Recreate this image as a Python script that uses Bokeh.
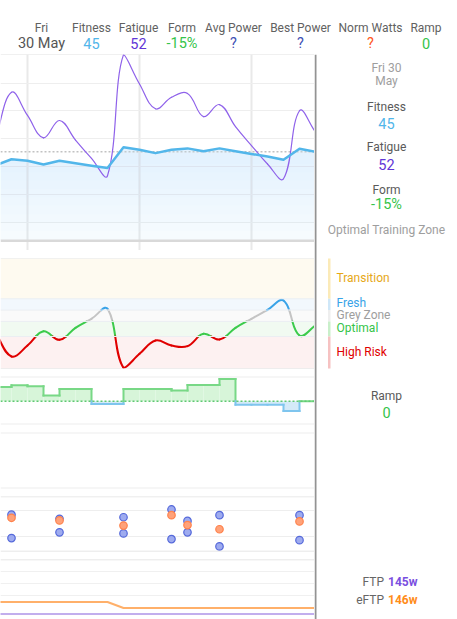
import numpy as np
import pandas as pd
from bokeh.plotting import figure
from bokeh.layouts import column, row
from bokeh.models import Range1d, FixedTicker, Span, BoxAnnotation
from bokeh.embed import file_html
from bokeh.resources import INLINE
from bokeh.core.properties import value

# ---------------- data ----------------
dates = ["2025-05-10", "2025-05-11", "2025-05-12", "2025-05-13", "2025-05-14",
         "2025-05-15", "2025-05-16", "2025-05-17", "2025-05-18", "2025-05-19",
         "2025-05-20", "2025-05-21", "2025-05-22", "2025-05-23", "2025-05-24",
         "2025-05-25", "2025-05-26", "2025-05-27", "2025-05-28", "2025-05-29",
         "2025-05-30"]
fitness = [40.5, 42.7, 42.2, 40.8, 42.2, 41.3, 40.4, 39.6, 47.0, 46.1, 44.9,
           46.1, 46.6, 45.6, 46.6, 45.6, 44.6, 43.7, 42.5, 46.5, 45.4]
fatigue = [50.0, 66.7, 58.4, 50.4, 56.6, 49.6, 43.0, 36.8, 80.2, 69.7, 60.8,
           64.9, 66.3, 58.0, 62.3, 54.4, 47.6, 41.0, 35.7, 60.1, 52.4]
form_pct = [-25.0, -56.5, -42.0, -23.0, -34.4, -18.5, -6.5, 6.7, -71.5, -53.0, -35.3,
            -42.0, -42.8, -26.4, -34.0, -18.5, -6.5, 5.4, 17.7, -28.7, -15.4]
ramp = [4.7, 5.3, 5.0, 1.9, 4.1, 4.1, -0.9, -0.9, 4.1, 4.1, 4.1,
        3.6, 5.4, 5.4, 7.4, -1.2, -1.2, -1.2, -3.3, 0.0, 0.0]
ftp = [145, 145, 145, 145, 145, 145, 145, 145, 145, 145, 145,
       145, 145, 145, 145, 145, 145, 145, 145, 145, 145]
eftp = [147, 147, 147, 147, 147, 147, 147, 147, 146, 146, 146,
        146, 146, 146, 146, 146, 146, 146, 146, 146, 146]

activity_dates = ["2025-05-11", "2025-05-14", "2025-05-18", "2025-05-21",
                  "2025-05-22", "2025-05-24", "2025-05-29"]
best_power = [142, 134, 137, 152, 130, 141, 141]
norm_watts = [136, 131, 121, 141, 122, 114, 129]
avg_power = [97, 108, 106, 95, 108, 81, 93]

week_starts = ["2025-05-12", "2025-05-19", "2025-05-26"]
fitness_ticks = [20, 30, 40, 50, 60, 70]
power_ticks = [100, 150]
ftp_ticks = [148, 150, 152]

zone_names = ["Transition", "Fresh", "Grey Zone", "Optimal", "High Risk"]
zone_edges = [20, 5, -10, -30]          # form % boundaries between the zones

header_labels = ["Fitness", "Fatigue", "Form", "Avg Power", "Best Power", "Norm Watts", "Ramp"]

# ---------------- styling / layout ----------------
FONT = "Roboto"
W = 457
HEAD_H = 54
LEFT_W, RIGHT_W = 314, 143
BODY_TOP, BODY_BOT = 54, 619
PANEL_L, PANEL_R = 314, 457
VIEW_START, VIEW_END = "2025-05-10 07:30", "2025-05-29 22:30"
PX_PER_DAY = 16

FIT_COLOR, FIT_FILL = "#52b6ea", "#bfe3f7"
FAT_COLOR = "#8f62ea"
FORM_TXT = "#35c44a"
zone_bg = ["#fefaf0", "#f2f8fd", "#fafafa", "#f1faf1", "#fdf1f1"]
zone_line = ["#f0b020", "#38a3e8", "#c4c4c4", "#3ccb4c", "#e00000"]
zone_bar = ["#fbeab8", "#cfe7f8", "#eeeeee", "#c9efca", "#f6c2c2"]
zone_text = ["#e6a817", "#38a3e8", "#9e9e9e", "#35c44a", "#e00000"]
RAMP_UP, RAMP_UP_FILL = "#78d886", "#d7f5d9"
RAMP_DN, RAMP_DN_FILL = "#7fc5ee", "#d4eaf8"

FIT_MIN, FIT_MAX, FIT_FLOOR = 10, 80.25, 13.5
FORM_MIN, FORM_MAX = -72.4, 73.4
RAMP_MIN, RAMP_MAX = -7.77, 8.23
PWR_MIN, PWR_MAX = 71.2, 176.9
FTP_MIN, FTP_MAX = 144.08, 154.08
F1_FRAME_H, F2_TOP, F2_BOT = 196, 258, 368   # page px


def ms(d):
    return pd.Timestamp(d).value / 1e6


DAY_MS = 86400000.0
x = np.array([ms(d) for d in dates])
xa = np.array([ms(d) for d in activity_dates])
xr = Range1d(ms(VIEW_START), ms(VIEW_END))


def strip(height, ylo, yhi, pad_top, pad_bottom):
    p = figure(width=LEFT_W, height=height, x_range=xr, y_range=Range1d(ylo, yhi),
               x_axis_type="datetime", x_axis_location=None, y_axis_location=None,
               toolbar_location=None, output_backend="svg",
               min_border=0, min_border_left=0, min_border_right=0,
               min_border_top=pad_top, min_border_bottom=pad_bottom,
               outline_line_color=None, background_fill_color="white",
               border_fill_color="white")
    p.xgrid.visible = False
    p.ygrid.visible = False
    return p


def edges(p, top_color, bot_color, top_w=1, bot_w=1):
    p.add_layout(Span(location=p.y_range.end, dimension="width",
                      line_color=top_color, line_width=top_w))
    p.add_layout(Span(location=p.y_range.start, dimension="width",
                      line_color=bot_color, line_width=bot_w))


def put_text(p, xs, ys, texts, colors, size, align="center", baseline="alphabetic",
             style="normal", **kw):
    p.text(x=xs, y=ys, text=texts, text_color=colors, text_font=value(FONT),
           text_font_size=size, text_align=align, text_baseline=baseline,
           text_font_style=style, **kw)


def zone_index(v):
    for k, e in enumerate(zone_edges):
        if v > e:
            return k
    return len(zone_edges)


def spline_segments(xs, ys, px_per_unit, ylo, yhi, tension=0.4):
    """Cubic Bezier control points for a smooth line through the data points
    (same construction as a tension spline), computed in screen-proportional space."""
    sx = PX_PER_DAY / DAY_MS
    X = np.asarray(xs, float) * sx
    Y = np.asarray(ys, float) * px_per_unit
    n = len(X)
    prevc = np.zeros((n, 2))
    nextc = np.zeros((n, 2))
    for i in range(n):
        p1 = np.array([X[i], Y[i]])
        p0 = np.array([X[i - 1], Y[i - 1]]) if i > 0 else p1
        p2 = np.array([X[i + 1], Y[i + 1]]) if i < n - 1 else p1
        d01 = np.hypot(*(p1 - p0))
        d12 = np.hypot(*(p2 - p1))
        tot = d01 + d12
        s01 = d01 / tot if tot else 0.0
        s12 = d12 / tot if tot else 0.0
        prevc[i] = p1 - tension * s01 * (p2 - p0)
        nextc[i] = p1 + tension * s12 * (p2 - p0)
    segs = []
    for i in range(n - 1):
        P = np.array([[X[i], Y[i]], nextc[i], prevc[i + 1], [X[i + 1], Y[i + 1]]])
        P[:, 0] /= sx
        P[:, 1] /= px_per_unit
        P[1:3, 1] = np.clip(P[1:3, 1], ylo, yhi)
        segs.append(P)
    return segs


def bez_split(P, t):
    a = P[0] + (P[1] - P[0]) * t
    b = P[1] + (P[2] - P[1]) * t
    c = P[2] + (P[3] - P[2]) * t
    ab = a + (b - a) * t
    bc = b + (c - b) * t
    m = ab + (bc - ab) * t
    return np.array([P[0], a, ab, m]), np.array([m, bc, c, P[3]])


def bez_sub(P, t0, t1):
    left = bez_split(P, t1)[0] if t1 < 1 else P
    if t0 <= 0:
        return left
    return bez_split(left, t0 / t1)[1]


def bez_y(P, t):
    return ((1 - t) ** 3 * P[0, 1] + 3 * (1 - t) ** 2 * t * P[1, 1]
            + 3 * (1 - t) * t ** 2 * P[2, 1] + t ** 3 * P[3, 1])


def split_curves_by_levels(segs, levels):
    pieces, mids = [], []
    for P in segs:
        y0, c0, c1, y1 = P[:, 1]
        a = -y0 + 3 * c0 - 3 * c1 + y1
        b = 3 * y0 - 6 * c0 + 3 * c1
        c = 3 * c0 - 3 * y0
        ts = [0.0, 1.0]
        for L in levels:
            for r in np.roots([a, b, c, y0 - L]):
                if abs(r.imag) < 1e-9 and 1e-6 < r.real < 1 - 1e-6:
                    ts.append(float(r.real))
        ts.sort()
        for t0, t1 in zip(ts[:-1], ts[1:]):
            if t1 - t0 < 1e-6:
                continue
            pieces.append(bez_sub(P, t0, t1))
            mids.append(bez_y(P, 0.5 * (t0 + t1)))
    return pieces, mids


def draw_bez(p, pieces, colors, width):
    p.bezier(x0=[q[0, 0] for q in pieces], y0=[q[0, 1] for q in pieces],
             x1=[q[3, 0] for q in pieces], y1=[q[3, 1] for q in pieces],
             cx0=[q[1, 0] for q in pieces], cy0=[q[1, 1] for q in pieces],
             cx1=[q[2, 0] for q in pieces], cy1=[q[2, 1] for q in pieces],
             line_color=colors, line_width=width, line_cap="round")


# ---------------- 1. fitness / fatigue ----------------
p1 = strip(196, FIT_MIN, FIT_MAX, 0, 0)
p1.xgrid.visible = True
p1.xgrid.ticker = FixedTicker(ticks=[ms(d) for d in week_starts])
p1.xgrid.grid_line_color = "#e9e9e9"
p1.xgrid.grid_line_width = 2
p1.ygrid.visible = True
p1.ygrid.ticker = FixedTicker(ticks=fitness_ticks)
p1.ygrid.grid_line_color = "#eeeeee"
fit = np.array(fitness)
p1.varea(x=x, y1=FIT_FLOOR, y2=np.maximum(fit, FIT_FLOOR), fill_color=FIT_FILL, fill_alpha=0.14)
for lv in range(17, 44, 3):
    p1.varea(x=x, y1=lv, y2=np.maximum(fit, lv), fill_color=FIT_FILL, fill_alpha=0.035)
p1.add_layout(Span(location=fitness[-1], dimension="width", line_color="#c2c2c2",
                   line_width=1.5, line_dash="2 2", level="underlay"))
fit_scale = F1_FRAME_H / (FIT_MAX - FIT_MIN)
fat_segs = spline_segments(x, fatigue, fit_scale, FIT_MIN, FIT_MAX)
draw_bez(p1, fat_segs, FAT_COLOR, 1.2)
p1.line(x, fitness, line_color=FIT_COLOR, line_width=2.5, line_join="round")
p1.add_layout(Span(location=FIT_FLOOR, dimension="width", line_color="#d9d9d9", line_width=2.5))
edges(p1, "#e2e2e2", "#ebebeb")

# ---------------- 2. form ----------------
p2 = strip(122, FORM_MIN, FORM_MAX, 8, 4)
band_top = [FORM_MAX] + zone_edges
band_bot = zone_edges + [FORM_MIN]
for lo, hi, c in zip(band_bot, band_top, zone_bg):
    p2.add_layout(BoxAnnotation(bottom=lo, top=hi, fill_color=c, fill_alpha=1,
                                line_color=None, level="underlay"))
for e in zone_edges:
    p2.add_layout(Span(location=e, dimension="width", line_color="#ebeef2", line_width=1))
form_scale = (F2_BOT - F2_TOP) / (FORM_MAX - FORM_MIN)
form_segs = spline_segments(x, form_pct, form_scale, FORM_MIN, FORM_MAX)
pieces, mids = split_curves_by_levels(form_segs, zone_edges)
draw_bez(p2, pieces, [zone_line[zone_index(m)] for m in mids], 2)
edges(p2, "#e3e3e3", "#dddddd")

# ---------------- 3. ramp ----------------
p3 = strip(56, RAMP_MIN, RAMP_MAX, 4, 4)
n_int = len(ramp) - 1
q_cols = [RAMP_UP_FILL if v >= 0 else RAMP_DN_FILL for v in ramp[:n_int]]
p3.quad(left=x[:-1], right=x[1:], bottom=0, top=ramp[:n_int], fill_color=q_cols,
        line_color=None)
rx0, ry0, rx1, ry1, rc = [], [], [], [], []
for i in range(n_int):
    v = ramp[i]
    rx0.append(x[i]); ry0.append(v); rx1.append(x[i + 1]); ry1.append(v)
    rc.append(RAMP_UP if v >= 0 else RAMP_DN)
    if i + 1 < n_int:
        a, b = v, ramp[i + 1]
        if a * b < 0:
            rx0 += [x[i + 1], x[i + 1]]; ry0 += [a, 0]
            rx1 += [x[i + 1], x[i + 1]]; ry1 += [0, b]
            rc += [RAMP_UP if a > 0 else RAMP_DN, RAMP_UP if b > 0 else RAMP_DN]
        elif a != b:
            rx0.append(x[i + 1]); ry0.append(a); rx1.append(x[i + 1]); ry1.append(b)
            rc.append(RAMP_UP if a + b > 0 else RAMP_DN)
p3.add_layout(Span(location=0, dimension="width", line_color="#5fc972",
                   line_width=1.5, line_dash="2 2"))
p3.segment(x0=rx0, y0=ry0, x1=rx1, y1=ry1, line_color=rc, line_width=2, line_cap="square")
edges(p3, "#eeeeee", "#eeeeee", 2, 2)

# ---------------- 4. (empty strip) ----------------
p4 = strip(64, 0, 1, 4, 4)
edges(p4, "#eeeeee", "#eeeeee", 2, 2)

# ---------------- 5. power ----------------
p5 = strip(63, PWR_MIN, PWR_MAX, 4, 4)
p5.ygrid.visible = True
p5.ygrid.ticker = FixedTicker(ticks=power_ticks)
p5.ygrid.grid_line_color = "#eeeeee"
p5.scatter(xa, avg_power, size=7.5, marker="circle", fill_color="#9eabef",
           line_color="#5569da", line_width=1.2)
p5.scatter(xa, best_power, size=7.5, marker="circle", fill_color="#9eabef",
           line_color="#5569da", line_width=1.2)
p5.scatter(xa, norm_watts, size=7.5, marker="circle", fill_color="#ffa27a",
           line_color="#ff834d", line_width=1.2)
edges(p5, "#e2e2e2", "#dddddd", 1.5, 1.5)

# ---------------- 6. FTP ----------------
p6 = strip(64, FTP_MIN, FTP_MAX, 4, 0)
p6.ygrid.visible = True
p6.ygrid.ticker = FixedTicker(ticks=ftp_ticks)
p6.ygrid.grid_line_color = "#f0f0f0"
p6.line(x, eftp, line_color="#ffb06a", line_width=2)
p6.line(x, ftp, line_color="#ae94e8", line_width=1.5)
p6.add_layout(Span(location=FTP_MAX, dimension="width", line_color="#dddddd", line_width=1.5))

left = column(p1, p2, p3, p4, p5, p6, spacing=0)

# ---------------- right panel (y measured downward from the page top) ----------------
rp = figure(width=RIGHT_W, height=BODY_BOT - BODY_TOP,
            x_range=Range1d(PANEL_L, PANEL_R), y_range=Range1d(BODY_BOT, BODY_TOP),
            x_axis_location=None, y_axis_location=None, toolbar_location=None,
            output_backend="svg", min_border=0, outline_line_color=None,
            background_fill_color="white", border_fill_color="white")
rp.xgrid.visible = False
rp.ygrid.visible = False
u_per_px = (FORM_MAX - FORM_MIN) / (F2_BOT - F2_TOP)
rp.extra_y_ranges = {"form": Range1d(FORM_MAX - (BODY_BOT - F2_TOP) * u_per_px,
                                     FORM_MAX + (F2_TOP - BODY_TOP) * u_per_px)}

# current-day marker line
rp.segment(x0=[315], y0=[BODY_TOP], x1=[315], y1=[BODY_BOT], line_color="#939393", line_width=2)

last = pd.Timestamp(dates[-1])
day_name, day_num, mon = last.strftime("%a"), str(last.day), last.strftime("%b")
fit_now = f"{round(fitness[-1])}"
fat_now = f"{round(fatigue[-1])}"
form_now = f"{round(form_pct[-1])}%"
ramp_now = f"{ramp[-1]:.0f}"
cur_zone = zone_names[zone_index(form_pct[-1])]

CX = 386
put_text(rp, [CX, CX], [67.8, 80.2], [f"{day_name} {day_num}", mon], "#9e9e9e", "12px")
put_text(rp, [CX, CX, CX], [106.2, 146.8, 189.2], ["Fitness", "Fatigue", "Form"],
         "#5a5a5a", "12px")
put_text(rp, [CX, CX, CX], [122.6, 163.6, 204.3], [fit_now, fat_now, form_now],
         [FIT_COLOR, "#6236d6", FORM_TXT], "14.5px")
put_text(rp, [CX], [229.2], [f"{cur_zone} Training Zone"], "#9e9e9e", "12px")

# zone legend
rp.quad(left=327.5, right=330, bottom=band_bot, top=band_top, fill_color=zone_bar,
        line_color=None, y_range_name="form")
zone_mid = [(a + b) / 2 for a, b in zip(band_bot, band_top)]
put_text(rp, [336] * 5, zone_mid, zone_names, zone_text, "12px", align="left",
         y_range_name="form", y_offset=-1)

put_text(rp, [CX], [395.8], ["Ramp"], "#5a5a5a", "12px")
put_text(rp, [CX], [412], [ramp_now], FORM_TXT, "14.5px")

put_text(rp, [383.5, 383.5], [581.2, 599.2], ["FTP", "eFTP"], "#666666", "12px", align="right")
put_text(rp, [387.5, 387.5], [581.2, 599.2], [f"{ftp[-1]}w", f"{eftp[-1]}w"],
         ["#7a4fe0", "#ff8c1a"], "12px", align="left", style="bold")

# ---------------- header (y measured upward from the header bottom) ----------------
hp = figure(width=W, height=HEAD_H, x_range=Range1d(0, W), y_range=Range1d(0, HEAD_H),
            x_axis_location=None, y_axis_location=None, toolbar_location=None,
            output_backend="svg", min_border=0, outline_line_color=None,
            background_fill_color="white", border_fill_color="white")
hp.xgrid.visible = False
hp.ygrid.visible = False
hx = [41, 91, 138, 181.5, 233, 300, 370, 425.5]
put_text(hp, hx, [HEAD_H - 27] * 8, [day_name] + header_labels, "#616161", "12px")
put_text(hp, hx, [HEAD_H - 42.6] * 8,
         [f"{day_num} {mon}", fit_now, fat_now, form_now, "?", "?", "?", ramp_now],
         ["#555555", FIT_COLOR, "#6236d6", FORM_TXT, "#3f51b5", "#3f51b5", "#ff5722", FORM_TXT],
         "14.5px")

layout = column(hp, row(left, rp, spacing=0), spacing=0)

open("out.html", "w").write(file_html(layout, INLINE))
